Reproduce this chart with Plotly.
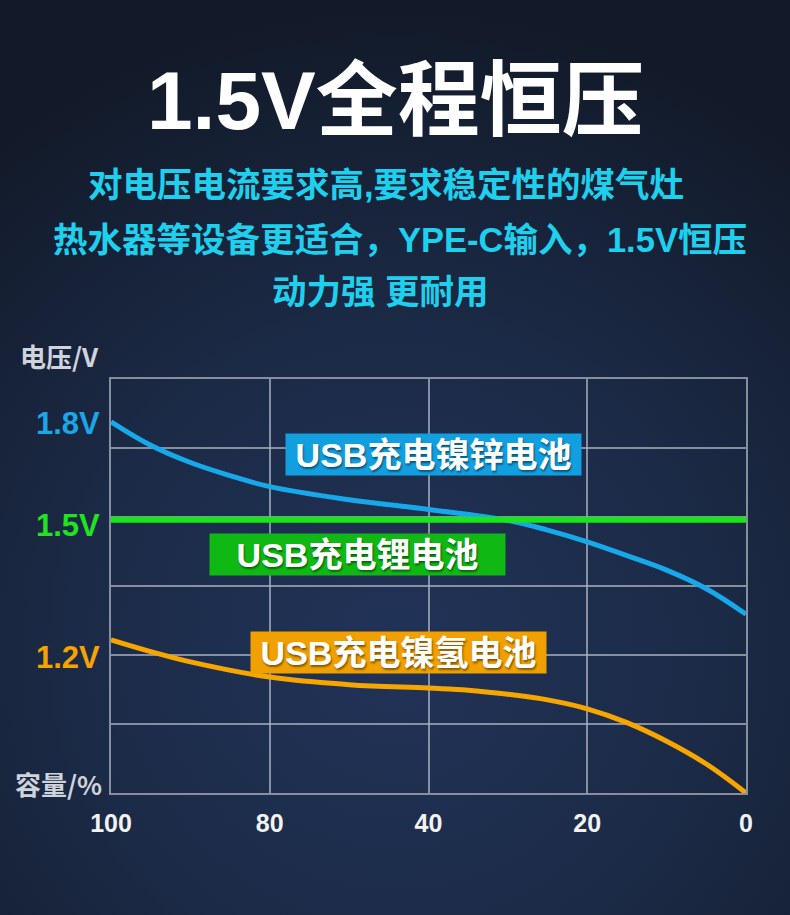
import base64
import plotly.graph_objects as go

# ---------------- data ----------------
x_pos = [0, 1, 2, 3, 4]
x_labels = ["100", "80", "40", "20", "0"]

# voltage labels (schematic positions in grid units)
v_label_pos = [5.36, 3.87, 1.97]
v_labels = ["1.8V", "1.5V", "1.2V"]
v_colors = ["#1ca6e8", "#22e322", "#f5a300"]

# USB充电镍锌电池 (blue)
nizn_x = [0, 0.25, 0.5, 0.75, 1.0, 1.5, 2.0, 2.5, 2.75, 3.0, 3.25, 3.5, 3.75, 4.0]
nizn_y = [5.38, 5.04, 4.79, 4.60, 4.44, 4.25, 4.11, 3.95, 3.81, 3.64, 3.44, 3.23, 2.96, 2.59]

# USB充电锂电池 (green, constant)
li_x = [0, 4]
li_y = [3.96, 3.96]

# USB充电镍氢电池 (orange)
nimh_x = [0, 0.25, 0.5, 1.0, 1.5, 2.0, 2.25, 2.5, 2.75, 3.0, 3.25, 3.5, 3.75, 4.0]
nimh_y = [2.22, 2.05, 1.90, 1.68, 1.57, 1.52, 1.49, 1.43, 1.35, 1.22, 1.02, 0.75, 0.42, 0.0]

series_names = ["USB充电镍锌电池", "USB充电锂电池", "USB充电镍氢电池"]
series_colors = ["#17a8ea", "#19e619", "#f7a600"]
label_bg = ["#129fe0", "#10b814", "#f0a000"]
label_pos = [(2.03, 4.90), (1.55, 3.46), (1.81, 2.03)]

title = "1.5V全程恒压"
subtitle = ["对电压电流要求高,要求稳定性的煤气灶",
            "热水器等设备更适合，YPE-C输入，1.5V恒压",
            "动力强 更耐用"]

FONT = "Liberation Sans, Noto Sans CJK SC, sans-serif"
CJK = "Noto Sans CJK SC, Liberation Sans, sans-serif"

W, H = 790, 915
L, R, T, B = 111, 44, 379, 122
PW, PH = W - L - R, H - T - B


def px_to_paper(px, py):
    return (px - L) / PW, (H - B - py) / PH


fig = go.Figure()

fig.add_trace(go.Scatter(x=nizn_x, y=nizn_y, mode="lines", name=series_names[0],
                         line=dict(color=series_colors[0], width=5, shape="spline", smoothing=1.1)))
fig.add_trace(go.Scatter(x=li_x, y=li_y, mode="lines", name=series_names[1],
                         line=dict(color=series_colors[1], width=6)))
fig.add_trace(go.Scatter(x=nimh_x, y=nimh_y, mode="lines", name=series_names[2],
                         line=dict(color=series_colors[2], width=5, shape="spline", smoothing=1.1)))

annotations = []
# series label boxes
for name, bg, (lx, ly) in zip(series_names, label_bg, label_pos):
    annotations.append(dict(
        x=lx, y=ly, xref="x", yref="y", text="<b>" + name + "</b>", showarrow=False,
        font=dict(family=FONT, size=34, color="white", shadow="1px 2px 2px rgba(0,0,0,0.45)"),
        bgcolor=bg, width=295, height=41, borderpad=0, align="center", valign="middle",
    ))

# voltage labels on left
for pos, txt, col in zip(v_label_pos, v_labels, v_colors):
    annotations.append(dict(
        x=-0.014, y=pos, xref="paper", yref="y", xanchor="right", yanchor="middle",
        text="<b>" + txt + "</b>", showarrow=False,
        font=dict(family=FONT, size=31, color=col),
    ))

# axis titles
ax, ay = px_to_paper(101, 355)
annotations.append(dict(x=ax, y=ay, xref="paper", yref="paper", xanchor="right", yanchor="middle",
                        text="<b>电压/V</b>", showarrow=False,
                        font=dict(family=CJK, size=26, color="#cfd3dc")))
ax, ay = px_to_paper(104, 783)
annotations.append(dict(x=ax, y=ay, xref="paper", yref="paper", xanchor="right", yanchor="middle",
                        text="<b>容量/%</b>", showarrow=False,
                        font=dict(family=CJK, size=26, color="#cfd3dc")))

# title
ax, ay = px_to_paper(395, 101)
annotations.append(dict(x=ax, y=ay, xref="paper", yref="paper", xanchor="center", yanchor="middle",
                        text="<b>" + title + "</b>", showarrow=False,
                        font=dict(family=FONT, size=82, color="white")))
# subtitles
for txt, (cx, cy) in zip(subtitle, [(386, 185), (400, 240), (380, 292)]):
    ax, ay = px_to_paper(cx, cy)
    annotations.append(dict(x=ax, y=ay, xref="paper", yref="paper", xanchor="center", yanchor="middle",
                            text="<b>" + txt + "</b>", showarrow=False,
                            font=dict(family=FONT, size=34.5, color="#1fd0ee")))

# background gradient (decoration)
svg = (
    "<svg xmlns='http://www.w3.org/2000/svg' width='790' height='915' viewBox='0 0 790 915' "
    "preserveAspectRatio='none'><defs><radialGradient id='g' cx='395' cy='650' r='640' "
    "gradientUnits='userSpaceOnUse'><stop offset='0' stop-color='#213358'/>"
    "<stop offset='0.5' stop-color='#1b2a46'/><stop offset='1' stop-color='#121a29'/>"
    "</radialGradient></defs><rect width='790' height='915' fill='url(#g)'/></svg>"
)
src = "data:image/svg+xml;base64," + base64.b64encode(svg.encode()).decode()
ix, iy = px_to_paper(0, 0)

grid_col = "rgba(170,178,192,0.75)"

fig.update_layout(
    width=W, height=H,
    margin=dict(l=L, r=R, t=T, b=B),
    paper_bgcolor="#141d2e",
    plot_bgcolor="rgba(0,0,0,0)",
    showlegend=False,
    annotations=annotations,
    images=[dict(source=src, xref="paper", yref="paper", x=ix, y=iy,
                 sizex=W / PW, sizey=H / PH, sizing="stretch", layer="below",
                 xanchor="left", yanchor="top")],
    xaxis=dict(range=[0, 4], tickvals=x_pos, ticktext=["<b>%s</b>" % t for t in x_labels],
               showgrid=True, gridcolor=grid_col, gridwidth=1.5, zeroline=False,
               showline=True, mirror=True, linecolor=grid_col, linewidth=1.5,
               ticks="", ticklabelstandoff=7,
               tickfont=dict(family=FONT, size=25, color="#f2f2f2"), fixedrange=True),
    yaxis=dict(range=[0, 6], showticklabels=False, ticks="", tickvals=[0, 1, 2, 3, 4, 5, 6],
               showgrid=True, gridcolor=grid_col, gridwidth=1.5, zeroline=False,
               showline=True, mirror=True, linecolor=grid_col, linewidth=1.5, fixedrange=True),
)

fig.write_html("out.html", config={"displayModeBar": False},
               post_script="document.body.style.margin='0';document.body.style.background='#141d2e';")
